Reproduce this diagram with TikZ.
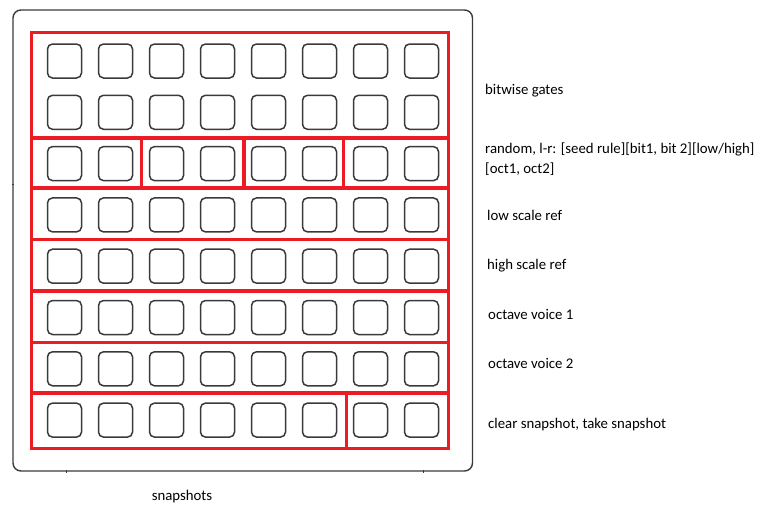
\documentclass[tikz,border=0pt]{standalone}
\usepackage{fontspec}
\setmainfont{Carlito}
\usetikzlibrary{positioning}
\definecolor{paintred}{HTML}{ED1C24}
\definecolor{framegray}{HTML}{3A3A3A}
\tikzstyle{pad}=[draw=framegray,line width=1.5pt,rounded corners=5pt,minimum size=34pt,inner sep=0pt]
\tikzstyle{group}=[draw=paintred,line width=3.2pt]
\tikzstyle{lbl}=[anchor=west,inner sep=0pt,align=left,font=\fontsize{14.8}{19.5}\selectfont]

\begin{document}
\begin{tikzpicture}[x=1pt,y=-1pt]
\useasboundingbox (0,0) rectangle (773,512);

% case
\draw[framegray,line width=1.4pt,rounded corners=8pt] (13,10) rectangle (472.5,471);
\draw[framegray,line width=1pt] (11.5,184) -- (14,184);
\draw[framegray,line width=1pt] (66,470) -- (66,473);
\draw[framegray,line width=1pt] (423,470) -- (423,473);

% pads
\foreach \r in {1,...,8}
  \foreach \c in {1,...,8}
    \node [pad] (p\r\c) at ({64.5+51*(\c-1)},{61+51.3*(\r-1)}) {};

% groups
\draw[group,line width=3.8pt] (31.5,32.5) rectangle (448.5,448.5);
\foreach \y in {138,188,239.5,291,342.5,393}
  \draw[group] (31.5,\y) -- (448.5,\y);
\foreach \x in {141.5,244,343.5}
  \draw[group] (\x,138) -- (\x,188);
\draw[group,line width=3.8pt] (346.5,393) -- (346.5,448.5);

\node [lbl] (gates) at (485,90.5) {bitwise gates};
\node [lbl] (random) at (485,159) {random, l-r: [seed rule][bit1, bit 2][low/high]\\{[oct1, oct2]}};
\node [lbl] (lowref) at (487,215.5) {low scale ref};
\node [lbl] (highref) at (487,265.5) {high scale ref};
\node [lbl] (voice1) at (488,314.5) {octave voice 1};
\node [lbl] (voice2) at (488,363.5) {octave voice 2};
\node [lbl] (clear) at (488,424.5) {clear snapshot, take snapshot};
\node [lbl,anchor=center] (snaps) at (182,496.5) {snapshots};

\end{tikzpicture}
\end{document}
